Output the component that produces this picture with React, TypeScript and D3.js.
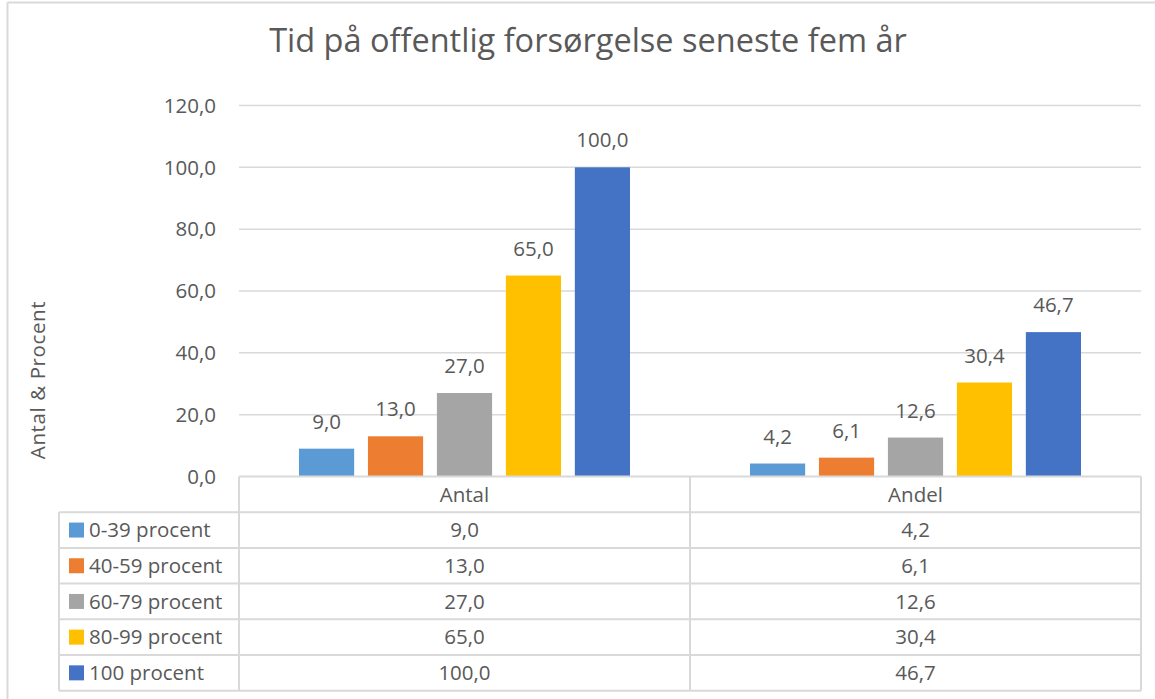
import React from 'react';
import * as d3 from 'd3';

// chart data
const categories = ['Antal', 'Andel'];
const seriesNames = ['0-39 procent', '40-59 procent', '60-79 procent', '80-99 procent', '100 procent'];
const antalValues = [9.0, 13.0, 27.0, 65.0, 100.0];
const andelValues = [4.2, 6.1, 12.6, 30.4, 46.7];
const yTicks = [0, 20, 40, 60, 80, 100, 120];
const colors = ['#5B9BD5', '#ED7D31', '#A5A5A5', '#FFC000', '#4472C4'];

const width = 1155;
const height = 699;
const font = '"Open Sans", "Noto Sans", sans-serif';
const textColor = '#595959';
const gridColor = '#d9d9d9';
const fs = 20.5;

const locale = d3.formatLocale({ decimal: ',', thousands: '.', grouping: [3], currency: ['', ' kr'] });
const fmt = locale.format('.1f');

const App = () => {
    const plot = { left: 239, right: 1141, top: 105.5, bottom: 476.5 };
    const valuesByCat = [antalValues, andelValues];

    // scales
    const y = d3.scaleLinear().domain([0, 120]).range([plot.bottom, plot.top]);
    const x0 = d3.scaleBand().domain(categories).range([plot.left, plot.right]);
    const x1 = d3
        .scaleBand()
        .domain(seriesNames)
        .range([0, x0.bandwidth()])
        .paddingInner(0.2)
        .paddingOuter(0.87);

    // table rows
    const headerTop = plot.bottom;
    const rowH = 35.7;
    const tableLeft = 59;

    return (
        <svg
            width={width}
            height={height}
            style={{ position: 'absolute', left: 0, top: 0, background: '#fff' }}
        >
            {/* outer chart border (only left and top visible) */}
            <line x1={7.5} x2={7.5} y1={2.5} y2={height} stroke={gridColor} strokeWidth={2} />
            <line x1={7.5} x2={width} y1={2.5} y2={2.5} stroke={gridColor} strokeWidth={2} />

            <text x={588} y={52} textAnchor="middle" fontFamily={font} fontSize={32.5} fill={textColor}>
                Tid på offentlig forsørgelse seneste fem år
            </text>

            {/* gridlines + y tick labels */}
            {yTicks.map((t) => (
                <g key={t}>
                    {t > 0 && (
                        <line x1={plot.left} x2={plot.right} y1={y(t)} y2={y(t)} stroke={gridColor} strokeWidth={1.5} />
                    )}
                    <text
                        x={216}
                        y={y(t)}
                        dy="0.35em"
                        textAnchor="end"
                        fontFamily={font}
                        fontSize={fs}
                        fill={textColor}
                    >
                        {fmt(t)}
                    </text>
                </g>
            ))}

            <text
                transform={`translate(45, 380) rotate(-90)`}
                textAnchor="middle"
                fontFamily={font}
                fontSize={fs}
                letterSpacing={0.6}
                fill={textColor}
            >
                Antal &amp; Procent
            </text>

            {/* bars */}
            {categories.map((c, ci) => (
                <g key={c} transform={`translate(${x0(c)}, 0)`}>
                    {seriesNames.map((s, si) => {
                        const v = valuesByCat[ci][si];
                        return (
                            <g key={s}>
                                <rect
                                    x={x1(s)}
                                    y={y(v)}
                                    width={x1.bandwidth()}
                                    height={y(0) - y(v)}
                                    fill={colors[si]}
                                />
                                <text
                                    x={(x1(s) || 0) + x1.bandwidth() / 2}
                                    y={y(v) - 20}
                                    textAnchor="middle"
                                    fontFamily={font}
                                    fontSize={fs}
                                    fill={textColor}
                                >
                                    {fmt(v)}
                                </text>
                            </g>
                        );
                    })}
                </g>
            ))}

            {/* data table */}
            <g stroke={gridColor} strokeWidth={2} fill="none">
                <line x1={plot.left} x2={plot.right} y1={headerTop} y2={headerTop} />
                {seriesNames.map((s, i) => (
                    <line
                        key={s}
                        x1={tableLeft}
                        x2={plot.right}
                        y1={headerTop + rowH * (i + 1)}
                        y2={headerTop + rowH * (i + 1)}
                    />
                ))}
                <line
                    x1={tableLeft}
                    x2={plot.right}
                    y1={headerTop + rowH * 6}
                    y2={headerTop + rowH * 6}
                />
                <line x1={tableLeft} x2={tableLeft} y1={headerTop + rowH} y2={headerTop + rowH * 6} />
                {categories.map((c) => (
                    <line key={c} x1={x0(c)} x2={x0(c)} y1={headerTop} y2={headerTop + rowH * 6} />
                ))}
                <line x1={plot.right} x2={plot.right} y1={headerTop} y2={headerTop + rowH * 6} />
            </g>

            {categories.map((c) => (
                <text
                    key={c}
                    x={(x0(c) || 0) + x0.bandwidth() / 2}
                    y={headerTop + rowH / 2}
                    dy="0.35em"
                    textAnchor="middle"
                    fontFamily={font}
                    fontSize={fs}
                    fill={textColor}
                >
                    {c}
                </text>
            ))}

            {seriesNames.map((s, si) => {
                const cy = headerTop + rowH * (si + 1.5);
                return (
                    <g key={s}>
                        <rect x={69} y={cy - 7.5} width={15} height={15} fill={colors[si]} />
                        <text x={89} y={cy} dy="0.35em" fontFamily={font} fontSize={fs} fill={textColor}>
                            {s}
                        </text>
                        {categories.map((c, ci) => (
                            <text
                                key={c}
                                x={(x0(c) || 0) + x0.bandwidth() / 2}
                                y={cy}
                                dy="0.35em"
                                textAnchor="middle"
                                fontFamily={font}
                                fontSize={fs}
                                fill={textColor}
                            >
                                {fmt(valuesByCat[ci][si])}
                            </text>
                        ))}
                    </g>
                );
            })}
        </svg>
    );
};

export default App;
